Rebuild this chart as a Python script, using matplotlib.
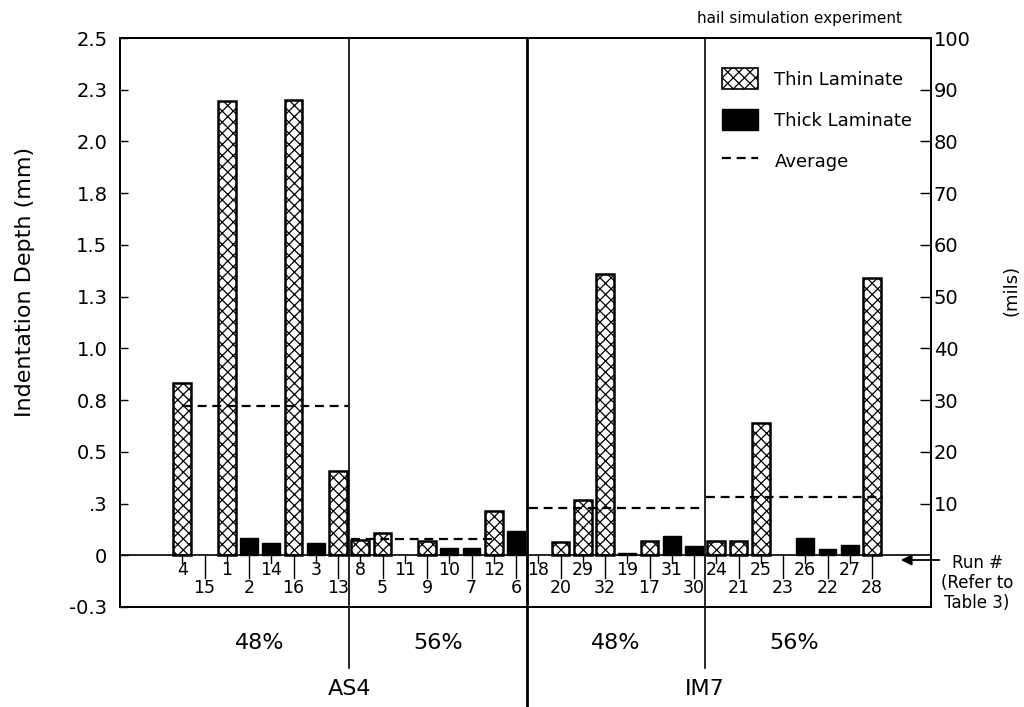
import matplotlib
matplotlib.use("Agg")
import matplotlib.pyplot as plt
import numpy as np
from matplotlib.patches import Patch
from matplotlib.lines import Line2D

plt.rcParams["font.family"] = ["DejaVu Sans"]
plt.rcParams["hatch.linewidth"] = 0.9

# Run numbers in plotting order (4 groups of 8: AS4 48%, AS4 56%, IM7 48%, IM7 56%)
run_numbers = [4, 15, 1, 2, 14, 16, 3, 13,
               8, 5, 11, 9, 10, 7, 12, 6,
               18, 20, 29, 32, 19, 17, 31, 30,
               24, 21, 25, 23, 26, 22, 27, 28]

# Indentation depth in mils (nan = no bar of that laminate for the run)
nan = np.nan
thin_mils = [33.3, nan, 87.9, nan, nan, 88.0, nan, 16.3,
             2.9, 4.4, nan, 2.8, nan, nan, 8.5, nan,
             nan, 2.5, 10.6, 54.4, nan, 2.7, nan, nan,
             2.7, 2.7, 25.6, nan, nan, nan, nan, 53.6]
thick_mils = [nan, nan, nan, 3.3, 2.3, nan, 2.3, nan,
              nan, nan, nan, nan, 1.5, 1.5, nan, 4.6,
              nan, nan, nan, nan, 0.5, nan, 3.7, 1.8,
              nan, nan, nan, nan, 3.3, 1.3, 1.9, nan]

# Group averages (mils)
group_avg_mils = [28.8, 3.1, 9.2, 11.3]
fraction_labels = ["48%", "56%", "48%", "56%"]
fiber_labels = ["AS4", "IM7"]

left_tick_labels = ["-0.3", "0", ".3", "0.5", "0.8", "1.0", "1.3",
                    "1.5", "1.8", "2.0", "2.3", "2.5"]
right_tick_labels = ["10", "20", "30", "40", "50", "60", "70", "80", "90", "100"]

# ---- figure ----
fig = plt.figure(figsize=(10.24, 7.07), dpi=100)
W, H = 1024, 707
ax = fig.add_axes([120 / W, 1 - 607 / H, (931 - 120) / W, (607 - 38) / H])

x = np.arange(len(run_numbers))
bar_w = 0.8
thin_arr = np.array(thin_mils)
thick_arr = np.array(thick_mils)
has_thin = ~np.isnan(thin_arr)
has_thick = ~np.isnan(thick_arr)
ax.bar(x[has_thin], thin_arr[has_thin], width=bar_w,
       color="white", edgecolor="black", linewidth=1.8, hatch="xxx", zorder=2)
ax.bar(x[has_thick], thick_arr[has_thick], width=bar_w,
       color="black", edgecolor="black", linewidth=1.0, zorder=2)

ax.set_xlim(-2.8, 33.65)
ax.set_ylim(-10, 100)

# zero line
ax.axhline(0, color="black", lw=1.2, zorder=3)

# group averages
avg_spans = [(0.05, 7.45), (7.6, 14.0), (15.6, 23.4), (23.55, 31.5)]
for avg, (x0, x1) in zip(group_avg_mils, avg_spans):
    ax.plot([x0, x1], [avg, avg], color="black", lw=1.6,
            linestyle=(0, (4, 2.6)), zorder=4)

# run-number ticks and labels, staggered in two rows
for i, r in enumerate(run_numbers):
    if i % 2 == 0:
        ax.plot([i, i], [0, -1.5], color="black", lw=1.0, zorder=3)
        ax.text(i, -2.8, str(r), ha="center", va="center", fontsize=12.5)
    else:
        ax.plot([i, i], [0, -4.4], color="black", lw=1.0, zorder=3)
        ax.text(i, -6.3, str(r), ha="center", va="center", fontsize=12.5)

# group dividers
for xd, ybot, lw in [(7.5, -21.7, 1.2), (15.5, -30.0, 2.0), (23.5, -21.7, 1.2)]:
    ax.plot([xd, xd], [100, ybot], color="black", lw=lw, clip_on=False, zorder=3)

# group labels
for g, lab in enumerate(fraction_labels):
    ax.text(8 * g + 3.5, -16.9, lab, ha="center", va="center", fontsize=16,
            clip_on=False)
for f, lab in enumerate(fiber_labels):
    ax.text(16 * f + 7.5, -25.8, lab, ha="center", va="center", fontsize=16,
            clip_on=False)

# left axis (mm)
ax.set_yticks(np.arange(-10, 101, 10))
ax.set_yticklabels(left_tick_labels)
ax.tick_params(axis="y", direction="in", length=6, width=1.0, labelsize=14, pad=9)
ax.set_xticks([])
for s in ax.spines.values():
    s.set_linewidth(1.3)

# right axis (mils)
ax2 = ax.twinx()
ax2.set_ylim(-10, 100)
ax2.set_yticks(np.arange(10, 101, 10))
ax2.set_yticklabels(right_tick_labels)
ax2.tick_params(axis="y", direction="in", length=8, width=1.0, labelsize=14, pad=2)
for s in ax2.spines.values():
    s.set_linewidth(1.3)

fig.text(25 / W, 1 - 282 / H, "Indentation Depth (mm)", rotation=90,
         ha="center", va="center", fontsize=16)
fig.text(1012 / W, 1 - 290 / H, "(mils)", rotation=90,
         ha="center", va="center", fontsize=13)
fig.text(902 / W, 1 - 18 / H, "hail simulation experiment",
         ha="right", va="center", fontsize=11)

# run number pointer
ax.annotate("", xy=(898, H - 560), xycoords="figure pixels",
            xytext=(942, H - 560), textcoords="figure pixels",
            arrowprops=dict(arrowstyle="-|>", color="black", lw=1.3,
                            mutation_scale=16))
fig.text(977 / W, 1 - 583 / H, "Run #\n(Refer to\nTable 3)", ha="center",
         va="center", fontsize=12, linespacing=1.15)

# legend
handles = [Patch(facecolor="white", edgecolor="black", hatch="xxx", linewidth=1.2),
           Patch(facecolor="black", edgecolor="black"),
           Line2D([0], [0], color="black", lw=1.6, linestyle=(0, (4, 2.6)))]
labels = ["Thin Laminate", "Thick Laminate", "Average"]
ax.legend(handles, labels, loc="upper left",
          bbox_to_anchor=(722 / W, 1 - 68 / H), bbox_transform=fig.transFigure,
          frameon=False, fontsize=13, handlelength=2.0, handleheight=1.45,
          handletextpad=0.9, labelspacing=1.08, borderpad=0, borderaxespad=0)

fig.savefig("out.png", dpi=100)
